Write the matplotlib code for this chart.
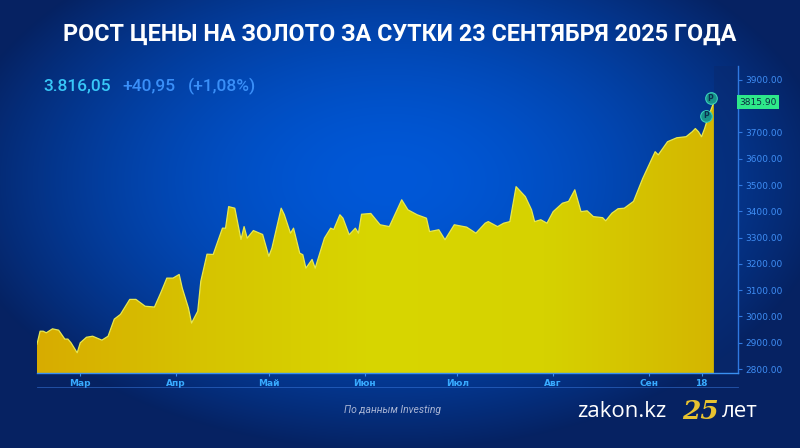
import numpy as np
import pandas as pd
import matplotlib
matplotlib.use("Agg")
import matplotlib.pyplot as plt
import matplotlib.dates as mdates
from matplotlib.colors import LinearSegmentedColormap

# gold price, USD per ounce
dates = [
    "2025-02-15", "2025-02-16", "2025-02-17", "2025-02-18", "2025-02-20", "2025-02-22",
    "2025-02-24", "2025-02-25", "2025-02-26", "2025-02-28", "2025-03-01", "2025-03-03",
    "2025-03-05", "2025-03-08", "2025-03-10", "2025-03-12", "2025-03-14", "2025-03-17",
    "2025-03-19", "2025-03-22", "2025-03-25", "2025-03-27", "2025-03-29", "2025-03-31",
    "2025-04-02", "2025-04-03", "2025-04-05", "2025-04-06", "2025-04-08", "2025-04-09",
    "2025-04-11", "2025-04-13", "2025-04-16", "2025-04-17", "2025-04-18", "2025-04-20",
    "2025-04-22", "2025-04-23", "2025-04-24", "2025-04-26", "2025-04-29", "2025-05-01",
    "2025-05-02", "2025-05-05", "2025-05-06", "2025-05-08", "2025-05-09", "2025-05-11",
    "2025-05-12", "2025-05-13", "2025-05-15", "2025-05-16", "2025-05-19", "2025-05-21",
    "2025-05-22", "2025-05-24", "2025-05-25", "2025-05-27", "2025-05-29", "2025-05-30",
    "2025-05-31", "2025-06-03", "2025-06-06", "2025-06-09", "2025-06-13", "2025-06-15",
    "2025-06-18", "2025-06-21", "2025-06-22", "2025-06-25", "2025-06-27", "2025-06-30",
    "2025-07-04", "2025-07-07", "2025-07-10", "2025-07-11", "2025-07-14", "2025-07-16",
    "2025-07-18", "2025-07-20", "2025-07-23", "2025-07-25", "2025-07-26", "2025-07-28",
    "2025-07-30", "2025-08-01", "2025-08-04", "2025-08-06", "2025-08-08", "2025-08-10",
    "2025-08-12", "2025-08-14", "2025-08-17", "2025-08-18", "2025-08-20", "2025-08-22",
    "2025-08-24", "2025-08-27", "2025-08-30", "2025-09-02", "2025-09-03", "2025-09-04",
    "2025-09-07", "2025-09-10", "2025-09-13", "2025-09-15", "2025-09-16", "2025-09-17",
    "2025-09-18", "2025-09-19", "2025-09-20", "2025-09-22",
]
prices = [
    2895, 2944, 2944, 2938, 2953, 2948,
    2914, 2914, 2900, 2862, 2900, 2921,
    2925, 2910, 2925, 2990, 3008, 3065,
    3065, 3039, 3036, 3089, 3146, 3146,
    3160, 3108, 3032, 2975, 3020, 3134,
    3237, 3236, 3336, 3336, 3418, 3412,
    3293, 3342, 3298, 3327, 3312, 3229,
    3260, 3412, 3388, 3317, 3336, 3241,
    3235, 3184, 3217, 3184, 3298, 3336,
    3331, 3387, 3374, 3311, 3336, 3317,
    3389, 3392, 3349, 3342, 3444, 3406,
    3387, 3374, 3323, 3330, 3292, 3349,
    3340, 3317, 3355, 3361, 3342, 3355,
    3361, 3494, 3456, 3406, 3361, 3368,
    3355, 3399, 3431, 3438, 3482, 3399,
    3402, 3380, 3376, 3364, 3393, 3410,
    3412, 3438, 3526, 3602, 3627, 3615,
    3665, 3680, 3684, 3703, 3715, 3703,
    3684, 3715, 3753, 3816,
]
y_ticks = [2800, 2900, 3000, 3100, 3200, 3300, 3400, 3500, 3600, 3700, 3800, 3900]
x_tick_dates = ["2025-03-01", "2025-04-01", "2025-05-01", "2025-06-01",
                "2025-07-01", "2025-08-01", "2025-09-01", "2025-09-18"]
x_tick_labels = ["Мар", "Апр", "Май", "Июн", "Июл", "Авг", "Сен", "18"]
last_price = "3815.90"
marker_dates = ["2025-09-19 10:00", "2025-09-20 22:00"]
marker_prices = [3763, 3831]

title = "РОСТ ЦЕНЫ НА ЗОЛОТО ЗА СУТКИ 23 СЕНТЯБРЯ 2025 ГОДА"
price_txt = "3.816,05"
change_txt = "+40,95"
pct_txt = "(+1,08%)"

W, H = 800, 448
fig = plt.figure(figsize=(W / 100, H / 100), dpi=100)

# background: blue radial glow, navy edges
bg = fig.add_axes([0, 0, 1, 1], zorder=-10)
yy, xx = np.mgrid[0:H, 0:W]
r = np.sqrt(((xx - 390) / 440.0) ** 2 + ((yy - 180) / 270.0) ** 2)
r = np.clip(r, 0, 1)
c_in = np.array([0x00, 0x58, 0xd8]) / 255
c_out = np.array([0x06, 0x22, 0x62]) / 255
t = (r ** 1.7)[..., None]
img = c_in * (1 - t) + c_out * t
bg.imshow(img, extent=[0, W, H, 0], aspect="auto")
bg.set_xlim(0, W)
bg.set_ylim(H, 0)
bg.axis("off")

x = mdates.date2num(pd.to_datetime(dates))
y = np.array(prices)

ax = fig.add_axes([37 / W, (H - 373) / H, (738 - 37) / W, (373 - 66) / H])
ax.patch.set_alpha(0)
ymin, ymax = 2785, 3953
x_right = x[-1] + 7.8
ax.set_xlim(x[0], x_right)
ax.set_ylim(ymin, ymax)

# dark band right of the last price
ax.axvspan(x[-1], x_right, color="#082a70", alpha=0.55, lw=0)

# gold area with horizontal gradient
poly = ax.fill_between(x, y, ymin, color="none", lw=0)
gold = LinearSegmentedColormap.from_list(
    "gold", ["#d8ac00", "#d6c400", "#d8d600", "#d6d200", "#d4b600"])
grad = np.linspace(0, 1, 256)[None, :]
im = ax.imshow(grad, cmap=gold, aspect="auto",
               extent=[x[0], x[-1], ymin, ymax], zorder=2)
im.set_clip_path(poly.get_paths()[0], transform=ax.transData)
ax.plot(x, y, color="#e8e850", lw=0.9, zorder=3)

# event markers near the end
mx = mdates.date2num(pd.to_datetime(marker_dates))
ax.scatter(mx, marker_prices, s=70, color="#17948a", edgecolor="#3ad0b8",
           lw=0.8, zorder=5)
for xm, ym in zip(mx, marker_prices):
    ax.text(xm, ym, "P", color="#0b3050", fontsize=5.5, fontweight="bold",
            ha="center", va="center", zorder=6)

# axes styling
axis_col = "#2f78e0"
for s in ["top", "left"]:
    ax.spines[s].set_visible(False)
ax.spines["right"].set_color(axis_col)
ax.spines["bottom"].set_color("#3a90f0")
ax.spines["right"].set_linewidth(1.0)
ax.spines["bottom"].set_linewidth(1.0)
ax.yaxis.tick_right()
ax.set_yticks(y_ticks)
# the 3800 label sits under the last-price tag
ax.set_yticklabels(["" if v == 3800 else f"{v:.2f}" for v in y_ticks])
ax.tick_params(axis="y", colors=axis_col, labelcolor="#3f8ef5", labelsize=6.5,
               length=3, pad=2)
ax.set_xticks(mdates.date2num(pd.to_datetime(x_tick_dates)))
ax.set_xticklabels(x_tick_labels, fontweight="bold")
ax.tick_params(axis="x", colors="#3a90f0", labelcolor="#38aaff", labelsize=6.5,
               length=2, pad=2)

# last price tag
ax.text(x_right + 0.5, float(last_price), last_price, fontsize=6.5,
        color="#0b2a40", ha="left", va="center", zorder=7, clip_on=False,
        bbox=dict(boxstyle="square,pad=0.25", fc="#2ee88a", ec="none"))

# separator line under axis labels
fig.add_artist(plt.Line2D([37 / W, 738 / W], [(H - 387) / H] * 2,
                          color="#3a7ae0", lw=0.6, alpha=0.6))

# headline texts
fig.text(0.5, 1 - 34 / H, title, ha="center", va="center", color="white",
         fontsize=16.8, fontweight="bold",
         family=["Roboto", "DejaVu Sans"])
fig.text(43 / W, 1 - 86 / H, price_txt, ha="left", va="center",
         color="#38c8f8", fontsize=12.5, fontweight="medium", family="Roboto")
fig.text(122 / W, 1 - 86 / H, change_txt, ha="left", va="center",
         color="#3a8ff8", fontsize=12.5, fontweight="medium", family="Roboto")
fig.text(188 / W, 1 - 86 / H, pct_txt, ha="left", va="center",
         color="#3a8ff8", fontsize=12.5, fontweight="medium", family="Roboto")

# footer
fig.text(393 / W, 1 - 410 / H, "По данным Investing", ha="center", va="center",
         color="#a8b4d4", fontsize=7.5, style="italic", family="Roboto")
fig.text(577 / W, 1 - 411 / H, "zakon.kz", ha="left", va="center",
         color="white", fontsize=16, family="Open Sans")
fig.text(700 / W, 1 - 411 / H, "25", ha="center", va="center",
         color="#e8c330", fontsize=19, fontweight="bold", style="italic",
         family="DejaVu Serif")
fig.text(722 / W, 1 - 411 / H, "лет", ha="left", va="center",
         color="white", fontsize=16, family="Open Sans")

fig.savefig("out.png", dpi=100)
